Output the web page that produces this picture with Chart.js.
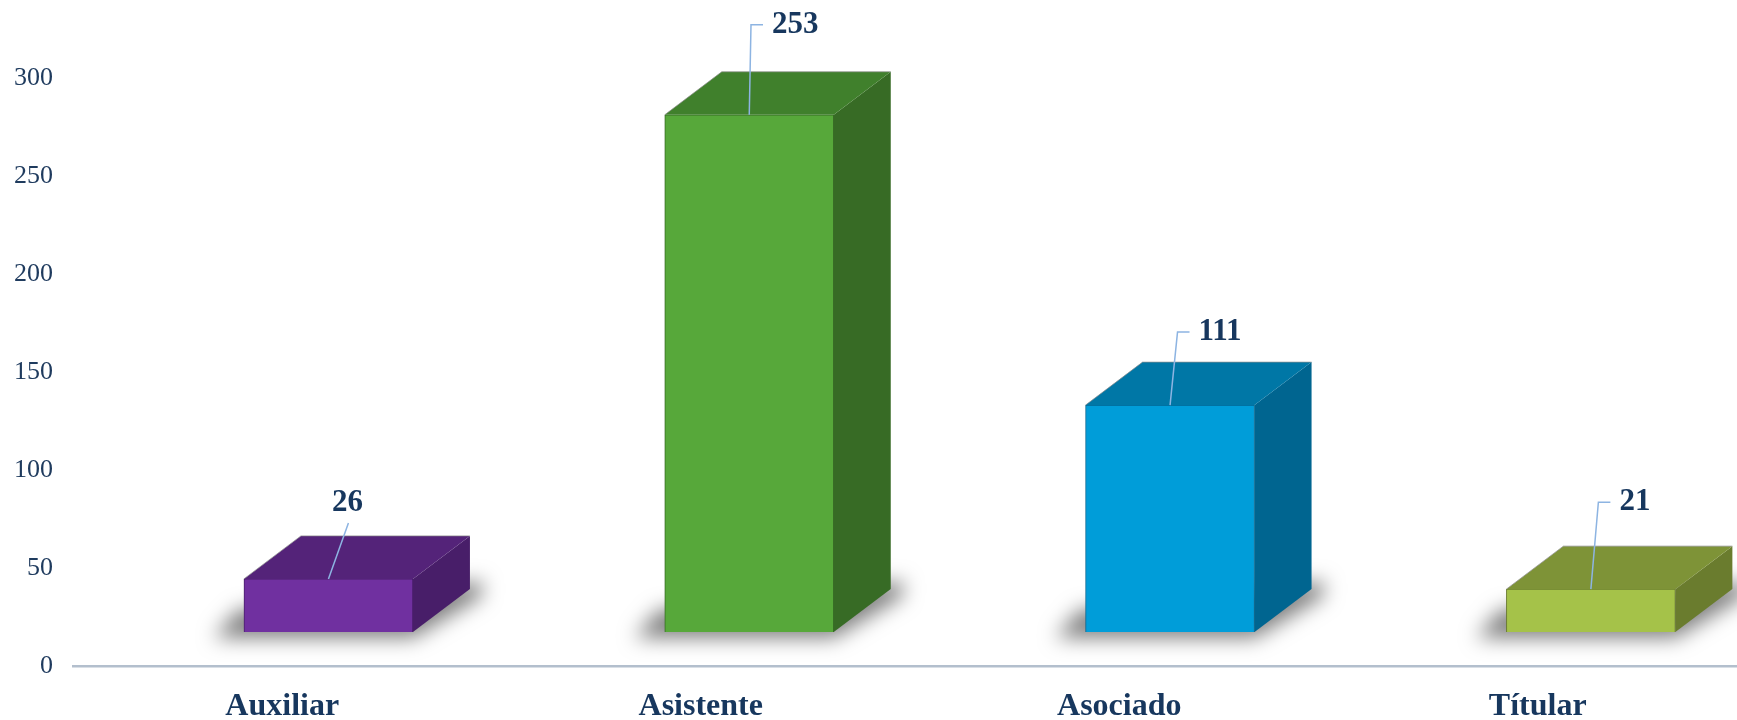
<!DOCTYPE html>
<html><head><meta charset="utf-8">
<script src="https://cdn.jsdelivr.net/npm/chart.js@4.4.1/dist/chart.umd.min.js"></script>
<style>
html,body{margin:0;padding:0;overflow:hidden;background:#fff;width:1737px;height:720px}
#wrap{width:1747px;height:720px}
</style></head>
<body><div id="wrap"><canvas id="c" width="1747" height="720"></canvas></div>
<script>
// ---- data ----
const categories = ['Auxiliar', 'Asistente', 'Asociado', 'Títular'];
const values = [26, 253, 111, 21];
const yTickMin = 0;
const yTickMax = 300;
const yTickStep = 50;

// ---- styles ----
const frontColors = ['#7030a0', '#57a83a', '#009dd9', '#a5c249'];
const topColors   = ['#542379', '#40802c', '#0077a6', '#7e9337'];
const sideColors  = ['#481e69', '#376b25', '#006590', '#6a7c2e'];
const labelOffsets = [[19, -76, 'below'], [46, -90, 'side'], [50, -73, 'side'], [44, -87, 'side']];
const DX = 57, DY = -43;
const SERIF = "'Liberation Serif','Times New Roman',serif";
const NAVY = '#17375e';

const bar3d = {
  id: 'bar3d',
  beforeDatasetsDraw(chart) {
    const ctx = chart.ctx;
    const meta = chart.getDatasetMeta(0);
    const OFF = 5000;
    meta.data.forEach((bar) => {
      const p = bar.getProps(['x', 'y', 'base', 'width'], true);
      const L = p.x - p.width / 2, R = p.x + p.width / 2, B = p.base;
      ctx.save();
      ctx.shadowColor = 'rgba(0,0,0,0.5)';
      ctx.shadowBlur = 20;
      ctx.shadowOffsetX = OFF;
      ctx.shadowOffsetY = 4;
      ctx.fillStyle = '#000';
      ctx.beginPath();
      ctx.moveTo(L - 30 - OFF, B + 2);
      ctx.lineTo(R - OFF, B + 2);
      ctx.lineTo(R + DX + 12 - OFF, B + DY + 3);
      ctx.lineTo(R + DX + 12 - OFF, B + DY - 12);
      ctx.lineTo(L - 6 - OFF, B - 26);
      ctx.closePath();
      ctx.fill();
      ctx.restore();
    });
  },
  afterDatasetsDraw(chart) {
    const ctx = chart.ctx;
    const meta = chart.getDatasetMeta(0);
    meta.data.forEach((bar, i) => {
      const p = bar.getProps(['x', 'y', 'base', 'width'], true);
      const L = p.x - p.width / 2, R = p.x + p.width / 2, T = p.y, B = p.base;
      ctx.save();
      ctx.fillStyle = sideColors[i];
      ctx.beginPath();
      ctx.moveTo(R, T); ctx.lineTo(R + DX, T + DY); ctx.lineTo(R + DX, B + DY); ctx.lineTo(R, B);
      ctx.closePath(); ctx.fill();
      ctx.fillStyle = topColors[i];
      ctx.beginPath();
      ctx.moveTo(L, T); ctx.lineTo(R, T); ctx.lineTo(R + DX, T + DY); ctx.lineTo(L + DX, T + DY);
      ctx.closePath(); ctx.fill();
      ctx.strokeStyle = 'rgba(140,140,140,0.7)';
      ctx.lineWidth = 1;
      ctx.beginPath();
      ctx.moveTo(L, T); ctx.lineTo(L + DX, T + DY); ctx.lineTo(R + DX, T + DY);
      ctx.stroke();
      ctx.restore();
    });
    meta.data.forEach((bar, i) => {
      const p = bar.getProps(['x', 'y'], true);
      const [ox, oy, kind] = labelOffsets[i];
      const cx = p.x + ox, cy = p.y + oy;
      const txt = String(values[i]);
      ctx.save();
      ctx.font = 'bold 31px ' + SERIF;
      const w = ctx.measureText(txt).width;
      ctx.strokeStyle = '#8db4e2';
      ctx.lineWidth = 1.5;
      ctx.beginPath();
      ctx.moveTo(p.x, p.y);
      if (kind === 'side') {
        const left = cx - w / 2;
        ctx.lineTo(left - 21, cy);
        ctx.lineTo(left - 9, cy);
      } else {
        ctx.lineTo(cx + 1, cy + 20);
      }
      ctx.stroke();
      ctx.fillStyle = NAVY;
      ctx.textAlign = 'center';
      ctx.textBaseline = 'middle';
      ctx.fillText(txt, cx, cy);
      ctx.restore();
    });
  }
};

new Chart(document.getElementById('c'), {
  type: 'bar',
  data: {
    labels: categories,
    datasets: [{
      data: values.map((v, i) => ({ x: i, y: v })),
      xAxisID: 'xb',
      yAxisID: 'yb',
      backgroundColor: frontColors,
      borderColor: sideColors,
      borderWidth: 1,
      barThickness: 169
    }]
  },
  options: {
    responsive: false,
    animation: false,
    devicePixelRatio: 1,
    layout: { padding: { top: 78, left: 0, right: 0, bottom: 0 } },
    plugins: { legend: { display: false }, tooltip: { enabled: false } },
    scales: {
      x: {
        type: 'category',
        position: 'bottom',
        min: 0,
        max: categories.length - 1,
        offset: true,
        grid: { display: false, drawTicks: false },
        border: { display: true, color: '#b3bfcd', width: 2.5 },
        ticks: { color: NAVY, font: { family: SERIF, size: 32, weight: 'bold' }, padding: 22, maxRotation: 0 },
        afterFit(s) { s.height = 54; }
      },
      y: {
        type: 'linear',
        position: 'left',
        min: yTickMin,
        max: yTickMax,
        grid: { display: false, drawTicks: false },
        border: { display: false },
        ticks: { stepSize: yTickStep, color: '#1f3b5e', font: { family: SERIF, size: 26 }, padding: 20 },
        afterFit(s) { s.width = 73; }
      },
      xb: { type: 'linear', display: false, offset: false, bounds: 'data', min: -0.607, max: 3.371 },
      yb: { type: 'linear', display: false, min: -16.6, max: 271.0 }
    }
  },
  plugins: [bar3d]
});
</script>
</body></html>
